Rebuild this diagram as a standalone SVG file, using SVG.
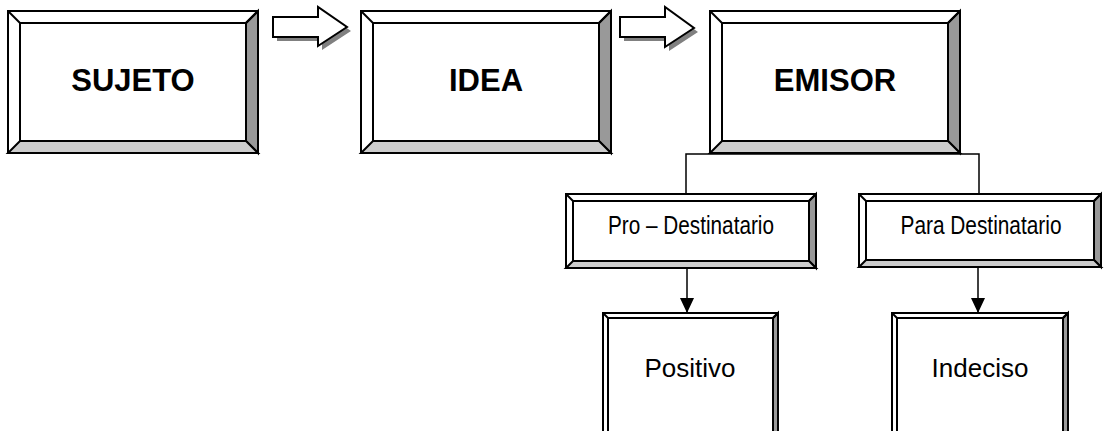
<svg xmlns="http://www.w3.org/2000/svg" width="1105" height="431" viewBox="0 0 1105 431">
<style>
.bl{stroke:#000;stroke-width:2;stroke-linejoin:miter}
.w{fill:#fff}
.dk{fill:#999}
.lt{fill:#ccc}
.big{font-family:"Liberation Sans",Arial,sans-serif;font-weight:bold;font-size:31px;text-anchor:middle}
.mid{font-family:"Liberation Sans",Arial,sans-serif;font-size:25px;text-anchor:middle}
.lrg{font-family:"Liberation Sans",Arial,sans-serif;font-size:26px;text-anchor:middle}
.ln{stroke:#000;stroke-width:1.5;fill:none}
.arw{fill:#fff;stroke:#000;stroke-width:2}
.shd{fill:#808080}
</style>
<defs>
<marker id="ah" markerWidth="15" markerHeight="14" refX="15" refY="7" orient="auto" markerUnits="userSpaceOnUse" viewBox="0 0 15 14">
<path d="M0,0 L15,7 L0,14 Z" fill="#000"/>
</marker>
</defs>

<g id="sujeto">
<rect class="bl w" x="8" y="11" width="250" height="142"/>
<polygon class="bl dk" points="258,11 258,153 246,141 246,23"/>
<polygon class="bl lt" points="8,153 258,153 246,141 20,141"/>
<rect class="bl w" x="20" y="23" width="226" height="118"/>
<line class="bl" x1="8" y1="11" x2="20" y2="23"/>
<line class="bl" x1="258" y1="11" x2="246" y2="23"/>
<text class="big" x="133" y="91">SUJETO</text>
</g>

<g id="idea">
<rect class="bl w" x="361" y="11" width="250" height="142"/>
<polygon class="bl dk" points="611,11 611,153 599,141 599,23"/>
<polygon class="bl lt" points="361,153 611,153 599,141 373,141"/>
<rect class="bl w" x="373" y="23" width="226" height="118"/>
<line class="bl" x1="361" y1="11" x2="373" y2="23"/>
<line class="bl" x1="611" y1="11" x2="599" y2="23"/>
<text class="big" x="486" y="91">IDEA</text>
</g>

<g id="emisor">
<rect class="bl w" x="710" y="11" width="250" height="142"/>
<polygon class="bl dk" points="960,11 960,153 948,141 948,23"/>
<polygon class="bl lt" points="710,153 960,153 948,141 722,141"/>
<rect class="bl w" x="722" y="23" width="226" height="118"/>
<line class="bl" x1="710" y1="11" x2="722" y2="23"/>
<line class="bl" x1="960" y1="11" x2="948" y2="23"/>
<text class="big" x="835" y="91">EMISOR</text>
</g>

<g id="pro">
<rect class="bl w" x="566" y="194" width="250" height="74"/>
<polygon class="bl dk" points="816,194 816,268 809,261 809,201"/>
<polygon class="bl lt" points="566,268 816,268 809,261 573,261"/>
<rect class="bl w" x="573" y="201" width="236" height="60"/>
<line class="bl" x1="566" y1="194" x2="573" y2="201"/>
<line class="bl" x1="816" y1="194" x2="809" y2="201"/>
<text class="mid" x="691" y="234" textLength="166" lengthAdjust="spacingAndGlyphs">Pro – Destinatario</text>
</g>

<g id="para">
<rect class="bl w" x="859" y="194" width="242" height="73"/>
<polygon class="bl dk" points="1101,194 1101,267 1094,260 1094,201"/>
<polygon class="bl lt" points="859,267 1101,267 1094,260 866,260"/>
<rect class="bl w" x="866" y="201" width="228" height="59"/>
<line class="bl" x1="859" y1="194" x2="866" y2="201"/>
<line class="bl" x1="1101" y1="194" x2="1094" y2="201"/>
<text class="mid" x="981" y="234" textLength="161" lengthAdjust="spacingAndGlyphs">Para Destinatario</text>
</g>

<g id="positivo">
<rect class="bl w" x="603" y="313" width="175" height="135"/>
<polygon class="bl dk" points="778,313 778,448 773,443 773,318"/>
<rect class="bl w" x="608" y="318" width="165" height="125"/>
<line class="bl" x1="603" y1="313" x2="608" y2="318"/>
<line class="bl" x1="778" y1="313" x2="773" y2="318"/>
<text class="lrg" x="690" y="377">Positivo</text>
</g>

<g id="indeciso">
<rect class="bl w" x="892" y="313" width="176" height="135"/>
<polygon class="bl dk" points="1068,313 1068,448 1063,443 1063,318"/>
<rect class="bl w" x="897" y="318" width="166" height="125"/>
<line class="bl" x1="892" y1="313" x2="897" y2="318"/>
<line class="bl" x1="1068" y1="313" x2="1063" y2="318"/>
<text class="lrg" x="980" y="377">Indeciso</text>
</g>

<g id="connectors">
<polygon class="shd" points="277,21 322,21 322,11 351,31 322,50 322,41 277,41"/>
<polygon class="arw" points="273,17 318,17 318,7 347,27 318,46 318,37 273,37"/>
<polygon class="shd" points="624,21 669,21 669,11 698,32 669,51 669,41 624,41"/>
<polygon class="arw" points="620,17 665,17 665,7 694,28 665,47 665,37 620,37"/>
<polyline class="ln" points="686,194 686,154 979,154 979,194"/>
<line class="ln" x1="687" y1="268" x2="687" y2="313" marker-end="url(#ah)"/>
<line class="ln" x1="978" y1="267" x2="978" y2="313" marker-end="url(#ah)"/>
</g>
</svg>
